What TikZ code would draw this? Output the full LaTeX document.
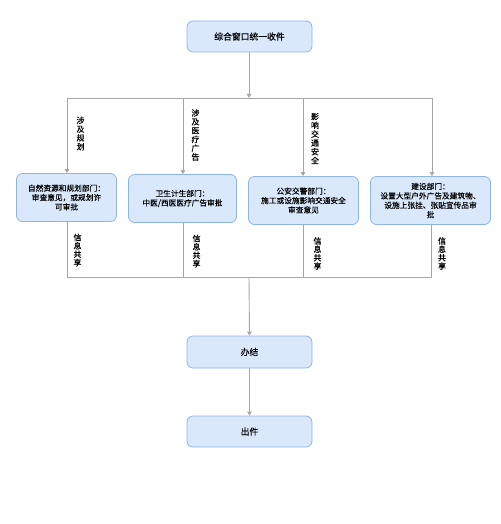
\documentclass[tikz,border=0pt]{standalone}
\usepackage{fontspec}
\newfontfamily\cjk[FakeBold=0.1]{Noto Sans CJK SC}
\newfontfamily\cjkb[FakeBold=0.5]{Noto Sans CJK SC}
\usetikzlibrary{arrows.meta}
\definecolor{boxfill}{HTML}{DAE8FC}
\definecolor{boxline}{HTML}{8FB4E3}
\definecolor{linegray}{HTML}{A6A6A6}
\tikzset{
  box/.style={draw=boxline, fill=boxfill, rounded corners=6pt, line width=0.8pt, align=center,
    font={\cjk\fontsize{7.7}{9.4}\selectfont}, inner sep=0pt},
  mainbox/.style={box, minimum width=125pt, font={\cjk\fontsize{8.8}{10}\selectfont}},
  conn/.style={draw=linegray, line width=0.9pt},
  arr/.style={conn, -{Triangle[width=4.5pt,length=4pt]}},
  vlabel/.style={align=center, inner sep=0pt, font={\cjkb\fontsize{8}{8.8}\selectfont}},
  slabel/.style={align=center, inner sep=0pt, font={\cjkb\fontsize{8}{8.4}\selectfont}},
}
\begin{document}
\begin{tikzpicture}[x=1pt,y=-1pt]
\useasboundingbox (0,0) rectangle (500,524);
% main boxes
\node[mainbox, minimum height=31pt] (top) at (249.5,36.5) {综合窗口统一收件};
\node[mainbox, minimum height=32pt] (done) at (249.5,352) {办结};
\node[mainbox, minimum height=31pt] (out) at (249.5,431.5) {出件};
% department boxes
\node[box, minimum width=100pt, minimum height=48pt] (b1) at (66.5,197.5) {自然资源和规划部门：\\审查意见，或规划许\\可审批};
\node[box, minimum width=108pt, minimum height=48pt] (b2) at (182.5,198.5) {卫生计生部门：\\中医/西医医疗广告审批};
\node[box, minimum width=110pt, minimum height=48pt] (b3) at (303.5,200.5) {公安交警部门：\\施工或设施影响交通安全\\审查意见};
\node[box, minimum width=120pt, minimum height=48pt] (b4) at (430.5,200.5) {建设部门：\\设置大型户外广告及建筑物、\\设施上张挂、张贴宣传品审\\批};
% junction coordinates
\coordinate (jt) at (249,98);
\coordinate (t1) at (67,98);
\coordinate (t4) at (432,98);
\coordinate (jb) at (249,277.5);
\coordinate (u1) at (67,277.5);
\coordinate (u4) at (431,277.5);
% top distribution
\draw[arr] (top.south -| jt) -- (jt);
\draw[conn] (t1) -- (t4);
\draw[arr] (t1) -- (b1.north -| t1);
\draw[arr] (183,98) -- (b2.north -| 183,0);
\draw[arr] (303,98) -- (b3.north -| 303,0);
\draw[arr] (t4) -- (b4.north -| t4);
% bottom collection
\draw[conn] (b1.south -| u1) -- (u1);
\draw[conn] (b2.south -| 183,0) -- (183,277.5);
\draw[conn] (b3.south -| 303,0) -- (303,277.5);
\draw[conn] (b4.south -| u4) -- (u4);
\draw[conn] (u1) -- (u4);
\draw[arr] (jb) -- (done.north);
\draw[arr] (done.south) -- (out.north);
% vertical labels
\node[vlabel] (l1) at (80.5,133.5) {涉\\及\\规\\划};
\node[vlabel] (l2) at (195.5,135) {涉\\及\\医\\疗\\广\\告};
\node[vlabel] (l3) at (315,138.5) {影\\响\\交\\通\\安\\全};
\node[slabel] (s1) at (77.5,250) {信\\息\\共\\享};
\node[slabel] (s2) at (196.5,251) {信\\息\\共\\享};
\node[slabel] (s3) at (317.5,253.5) {信\\息\\共\\享};
\node[slabel] (s4) at (442,253.5) {信\\息\\共\\享};
\end{tikzpicture}
\end{document}
